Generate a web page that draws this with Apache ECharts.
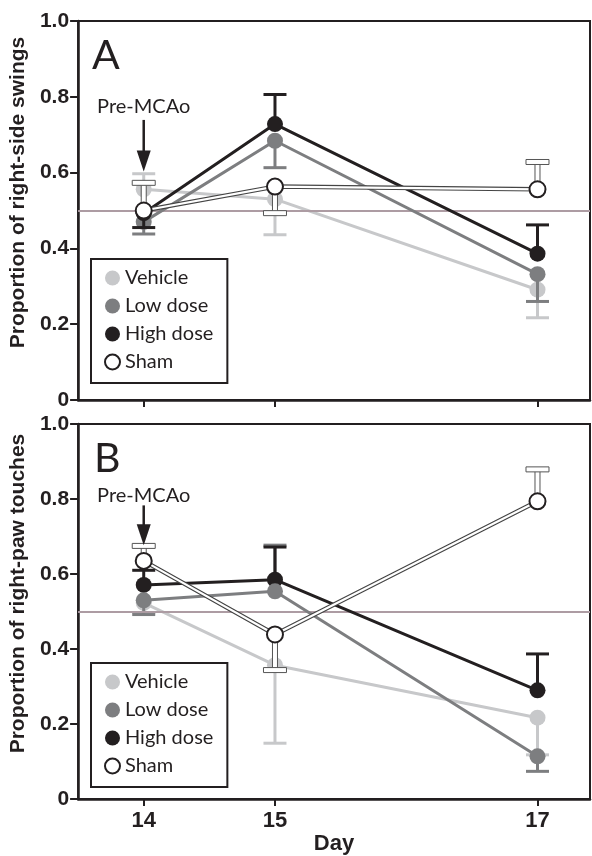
<!DOCTYPE html>
<html><head><meta charset="utf-8">
<script src="https://cdn.jsdelivr.net/npm/echarts@6/dist/echarts.min.js"></script>
<style>html,body{margin:0;padding:0;background:#fff}#c{width:592px;height:856px}</style>
</head><body><div id="c"></div>
<script>
// ---- data ----
const days = [14, 15, 17];
const xTickLabels = ['14', '15', '17'];
const yTickLabels = ['0', '0.2', '0.4', '0.6', '0.8', '1.0'];
const groupNames = ['Vehicle', 'Low dose', 'High dose', 'Sham'];
const chanceLevel = 0.5;
const annotationText = 'Pre-MCAo';

// Panel A: proportion of right-side swings
const swingsVehicle = [0.556, 0.530, 0.291];
const swingsLow     = [0.470, 0.684, 0.332];
const swingsHigh    = [0.493, 0.728, 0.386];
const swingsSham    = [0.500, 0.563, 0.556];
// error-bar ends (mean +/- SEM, one-sided as drawn)
const swingsVehicleErr = [0.597, 0.436, 0.217];
const swingsLowErr     = [0.438, 0.613, 0.260];
const swingsHighErr    = [0.455, 0.806, 0.462];
const swingsShamErr    = [0.573, 0.493, 0.628];
const swingsArrow = [14, 0.773, 0.739, 0.603]; // day, text, arrow start, arrow tip

// Panel B: proportion of right-paw touches
const touchesVehicle = [0.523, 0.357, 0.217];
const touchesLow     = [0.530, 0.554, 0.114];
const touchesHigh    = [0.571, 0.585, 0.290];
const touchesSham    = [0.635, 0.439, 0.794];
const touchesVehicleErr = [0.497, 0.149, 0.118];
const touchesLowErr     = [0.492, 0.677, 0.074];
const touchesHighErr    = [0.610, 0.672, 0.387];
const touchesShamErr    = [0.675, 0.344, 0.879];
const touchesArrow = [14, 0.809, 0.783, 0.677];

// ---- styles ----
const INK = '#231f20';
const colors = ['#c7c8ca', '#7d7e80', INK, '#ffffff'];
const FONT_B = '"Liberation Sans", Arial, sans-serif';
const FONT_R = 'Lato, "Open Sans", sans-serif';

function errRender(color, sham) {
  return function (params, api) {
    const x = api.value(0), y = api.value(1), e = api.value(2);
    const p0 = api.coord([x, y]), p1 = api.coord([x, e]);
    const hw = 11.5;
    if (!sham) {
      return {type: 'group', children: [
        {type: 'line', shape: {x1: p0[0], y1: p0[1], x2: p1[0], y2: p1[1]}, style: {stroke: color, lineWidth: 3}},
        {type: 'line', shape: {x1: p1[0] - hw, y1: p1[1], x2: p1[0] + hw, y2: p1[1]}, style: {stroke: color, lineWidth: 3}}
      ]};
    }
    const top = Math.min(p0[1], p1[1]), h = Math.abs(p1[1] - p0[1]);
    return {type: 'group', children: [
      {type: 'rect', shape: {x: p0[0] - 2.5, y: top, width: 5, height: h}, style: {fill: '#fff', stroke: '#555', lineWidth: 1}},
      {type: 'rect', shape: {x: p1[0] - hw, y: p1[1] - 2.5, width: 2 * hw, height: 5}, style: {fill: '#fff', stroke: '#555', lineWidth: 1}}
    ]};
  };
}

function annRender(params, api) {
  const x = api.value(0);
  const pt = api.coord([x, api.value(1)]);
  const ps = api.coord([x, api.value(2)]);
  const pe = api.coord([x, api.value(3)]);
  const headH = 21, headW = 7;
  return {type: 'group', children: [
    {type: 'text', style: {text: annotationText, x: pt[0], y: pt[1], align: 'center', verticalAlign: 'middle', font: '20px ' + FONT_R, fill: INK}},
    {type: 'line', shape: {x1: ps[0], y1: ps[1], x2: pe[0], y2: pe[1] - headH + 2}, style: {stroke: INK, lineWidth: 2.5}},
    {type: 'polygon', shape: {points: [[pe[0] - headW, pe[1] - headH], [pe[0] + headW, pe[1] - headH], [pe[0], pe[1]]]}, style: {fill: INK}}
  ]};
}

function panelSeries(p, vals, errs, arrow) {
  const out = [];
  // reference line at chance level
  out.push({type: 'line', xAxisIndex: p, yAxisIndex: p, data: [], z: 1, silent: true,
    markLine: {silent: true, symbol: ['none', 'none'], label: {show: false},
      lineStyle: {color: '#ad9ca3', width: 2, type: 'solid'}, data: [{yAxis: chanceLevel}]}});
  for (let g = 0; g < 4; g++) {
    const sham = g === 3;
    out.push({type: 'custom', name: groupNames[g] + ' err', xAxisIndex: p, yAxisIndex: p, z: 2 * g + 2,
      renderItem: errRender(sham ? '#fff' : colors[g], sham), encode: {x: 0, y: 1},
      data: days.map((d, i) => [d, vals[g][i], errs[g][i]])});
    const pts = days.map((d, i) => [d, vals[g][i]]);
    if (!sham) {
      const lowOverHigh = (p === 1);
      let z = 2 * g + 3;
      if (lowOverHigh && g === 1) z = 7.5;
      out.push({type: 'line', name: groupNames[g], xAxisIndex: p, yAxisIndex: p, z: z,
        symbol: 'circle', symbolSize: 16, showSymbol: true,
        itemStyle: {color: colors[g]}, lineStyle: {color: colors[g], width: 3}, data: pts});
    } else {
      out.push({type: 'line', name: 'Sham outline', xAxisIndex: p, yAxisIndex: p, z: 9, symbol: 'none',
        lineStyle: {color: '#444', width: 4.5}, data: pts});
      out.push({type: 'line', name: 'Sham inner', xAxisIndex: p, yAxisIndex: p, z: 9.5, symbol: 'none',
        lineStyle: {color: '#ffffff', width: 2.2}, data: pts});
      out.push({type: 'scatter', name: groupNames[g], xAxisIndex: p, yAxisIndex: p, z: 10,
        symbol: 'circle', symbolSize: 16,
        itemStyle: {color: '#fff', borderColor: INK, borderWidth: 2, opacity: 1}, data: pts});
    }
  }
  out.push({type: 'custom', xAxisIndex: p, yAxisIndex: p, z: 11, silent: true,
    renderItem: annRender, encode: {x: 0, y: 1}, data: [arrow]});
  return out;
}

const grids = [
  {left: 76, top: 21, right: 2, height: 379},
  {left: 76, top: 424, right: 2, height: 379}
];
const yNames = ['Proportion of right-side swings', 'Proportion of right-paw touches'];

const legendBase = {
  orient: 'vertical', left: 91, padding: [9, 14, 11, 13], itemGap: 8,
  itemWidth: 15, itemHeight: 15, icon: 'circle', data: groupNames,
  borderColor: INK, borderWidth: 2, selectedMode: false,
  textStyle: {fontSize: 20, fontFamily: FONT_R, color: INK, lineHeight: 20}
};

const option = {
  animation: false,
  backgroundColor: '#fff',
  title: [
    {text: 'A', left: 92, top: 35, padding: 0, textStyle: {fontSize: 41, fontWeight: 'normal', fontFamily: FONT_R, color: INK}},
    {text: 'B', left: 94, top: 438, padding: 0, textStyle: {fontSize: 41, fontWeight: 'normal', fontFamily: FONT_R, color: INK}}
  ],
  legend: [
    Object.assign({}, legendBase, {top: 259}),
    Object.assign({}, legendBase, {top: 663})
  ],
  grid: grids.map(g => Object.assign({show: true, borderColor: INK, borderWidth: 2}, g)),
  xAxis: [0, 1].map(i => ({
    gridIndex: i, type: 'value', min: 13.5, max: 17.4,
    axisLine: {lineStyle: {color: INK, width: 2.5}},
    axisTick: {show: true, customValues: days, length: 7, lineStyle: {color: INK, width: 2}},
    axisLabel: i === 1 ? {show: true, customValues: days, margin: 11,
      formatter: v => xTickLabels[days.indexOf(v)],
      fontSize: 22, fontWeight: 'bold', fontFamily: FONT_B, color: INK} : {show: false},
    splitLine: {show: false},
    name: i === 1 ? 'Day' : '', nameLocation: 'middle', nameGap: 30,
    nameTextStyle: {fontSize: 22, fontWeight: 'bold', fontFamily: FONT_B, color: INK}
  })),
  yAxis: [0, 1].map(i => ({
    gridIndex: i, type: 'value', min: 0, max: 1, interval: 0.2,
    axisLine: {show: true, lineStyle: {color: INK, width: 2.5}},
    axisTick: {show: true, length: 8, lineStyle: {color: INK, width: 2}},
    axisLabel: {margin: 9, formatter: v => yTickLabels[Math.round(v / 0.2)],
      fontSize: 21, fontWeight: 'bold', fontFamily: FONT_B, color: INK},
    splitLine: {show: false},
    name: yNames[i], nameLocation: 'middle', nameGap: 47,
    nameTextStyle: {fontSize: 21, fontWeight: 'bold', fontFamily: FONT_B, color: INK, padding: [0, 0, 0, 36]}
  })),
  series: [].concat(
    panelSeries(0,
      [swingsVehicle, swingsLow, swingsHigh, swingsSham],
      [swingsVehicleErr, swingsLowErr, swingsHighErr, swingsShamErr], swingsArrow),
    panelSeries(1,
      [touchesVehicle, touchesLow, touchesHigh, touchesSham],
      [touchesVehicleErr, touchesLowErr, touchesHighErr, touchesShamErr], touchesArrow)
  )
};

const chart = echarts.init(document.getElementById('c'), null, {renderer: 'canvas'});
chart.setOption(option);
</script></body></html>
